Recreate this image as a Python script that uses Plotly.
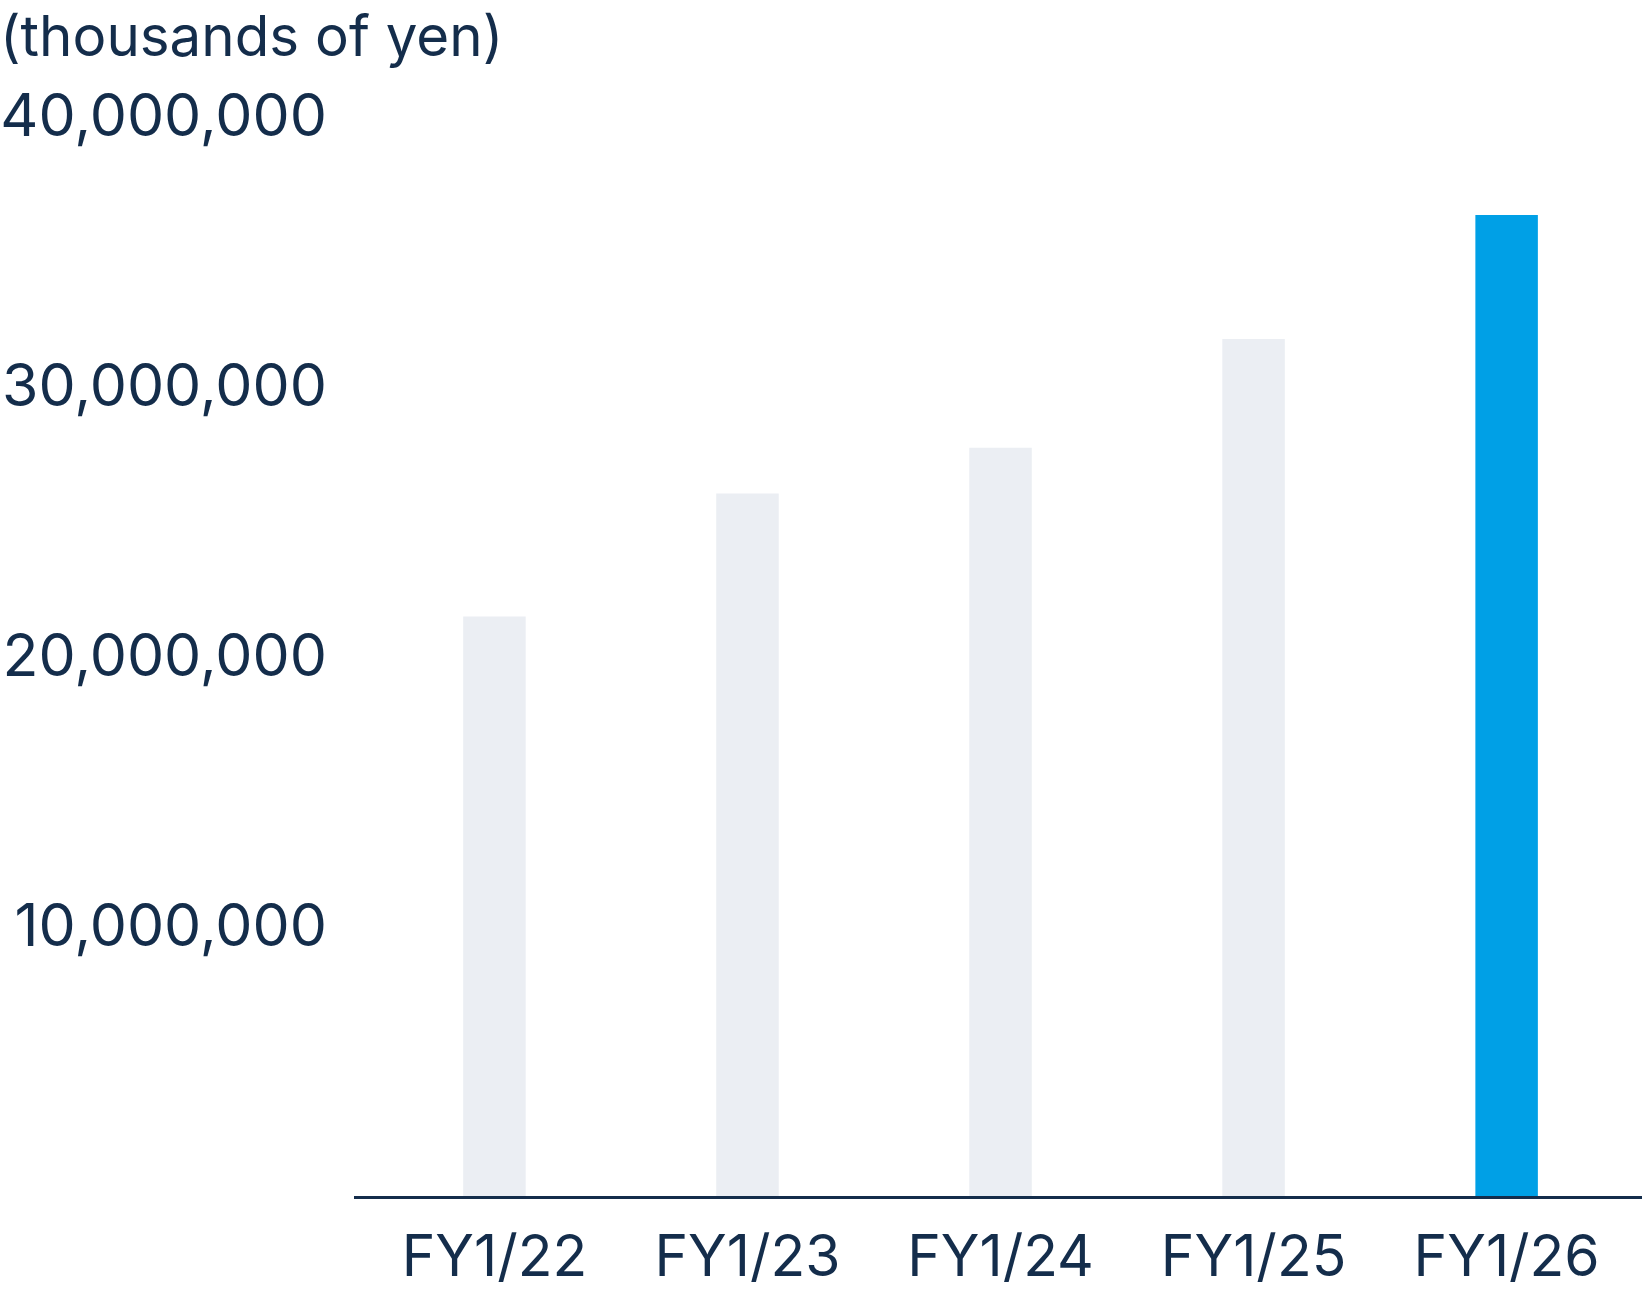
import plotly.graph_objects as go

categories = ["FY1/22", "FY1/23", "FY1/24", "FY1/25", "FY1/26"]
values = [21440000, 25990000, 27690000, 31710000, 36300000]
bar_colors = ["#EBEEF3", "#EBEEF3", "#EBEEF3", "#EBEEF3", "#00A0E6"]
y_tickvals = [10000000, 20000000, 30000000, 40000000]
unit_label = "(thousands of yen)"

TEXT = "#142D4B"
FONT = "Inter"

fig = go.Figure(
    go.Bar(
        x=categories,
        y=values,
        marker=dict(color=bar_colors, line=dict(width=0)),
        width=0.247,
        hoverinfo="skip",
    )
)

fig.update_layout(
    width=1642,
    height=1292,
    margin=dict(l=354, r=0, t=115, b=96, pad=0, autoexpand=False),
    paper_bgcolor="white",
    plot_bgcolor="white",
    showlegend=False,
    font=dict(family=FONT, color=TEXT, size=57),
    title=dict(
        text=unit_label,
        x=0,
        xref="container",
        xanchor="left",
        y=1 - 36 / 1292,
        yref="container",
        yanchor="middle",
        font=dict(family=FONT, size=56.5, color=TEXT),
        pad=dict(l=0, t=0, b=0, r=0),
    ),
)

fig.update_xaxes(
    type="category",
    range=[-0.555, 4.535],
    automargin=False,
    showgrid=False,
    zeroline=False,
    showline=True,
    linecolor=TEXT,
    linewidth=3,
    ticks="",
    ticklabelstandoff=9,
    tickfont=dict(family=FONT, size=57, color=TEXT),
)

fig.update_yaxes(
    range=[0, 40000000],
    automargin=False,
    tickvals=y_tickvals,
    tickformat=",",
    showgrid=False,
    zeroline=False,
    showline=False,
    ticks="",
    ticklabelstandoff=26,
    tickfont=dict(family=FONT, size=59, color=TEXT),
)

fig.write_html("out.html")
